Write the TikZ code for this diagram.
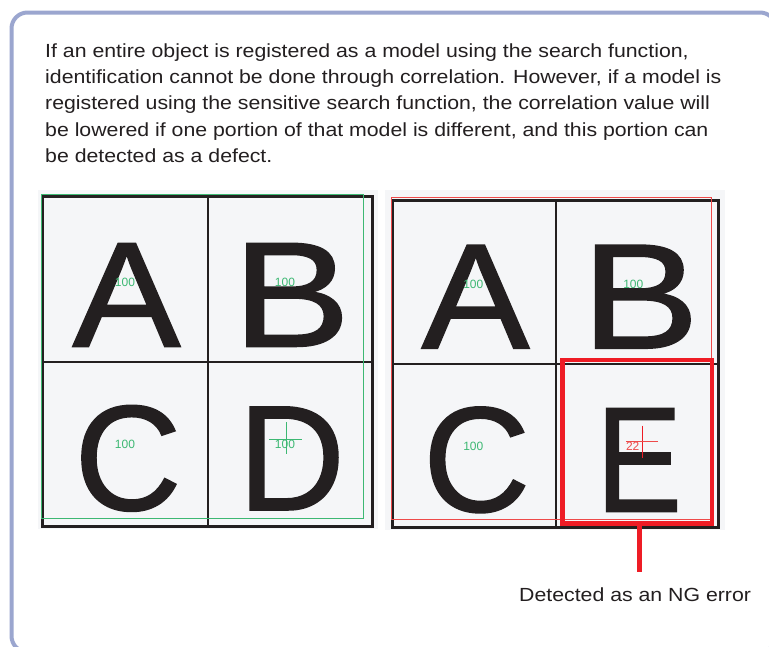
\documentclass[tikz,border=0pt]{standalone}
\usepackage{fontspec}
\usepackage{graphicx}
\setmainfont{Liberation Sans}
\newfontfamily\bodyfont[FakeStretch=1.12]{Liberation Sans}
\newfontfamily\letterfont[FakeBold=1]{Liberation Sans}
\newcommand\stretchletter[2]{\scalebox{#1}[1]{#2}}
\definecolor{framec}{HTML}{9BA6CF}
\definecolor{ink}{HTML}{231F20}
\definecolor{cellbg}{HTML}{F5F6F8}
\definecolor{okgreen}{HTML}{3DB873}
\definecolor{ngred}{HTML}{EE1C25}
\definecolor{thinred}{HTML}{EE4A4A}
\begin{document}
\begin{tikzpicture}[x=1pt,y=-1pt,
  framebox/.style={draw=framec,line width=4pt,rounded corners=16pt},
  bodytext/.style={font=\bodyfont\fontsize{19}{26.4}\selectfont,text=ink,inner sep=0pt,align=left},
  bigletter/.style={font=\letterfont\fontsize{150}{150}\selectfont,text=ink,inner sep=0pt,anchor=base},
  score/.style={font=\fontsize{12}{12}\selectfont,inner sep=0pt},
  gridouter/.style={draw=ink,line width=3pt},
  gridinner/.style={draw=ink,line width=2pt},
  okframe/.style={draw=okgreen,line width=1pt},
  ngthin/.style={draw=thinred,line width=1pt},
  ngbox/.style={draw=ngred,line width=4.7pt,inner sep=0pt},
  ngline/.style={draw=ngred,line width=5pt},
  cross/.style={line width=1pt}]
\useasboundingbox (0,0) rectangle (769,646);
\fill[white] (0,0) rectangle (769,646);
\draw[framebox] (11.5,12.5) rectangle (776,652);

\node[bodytext,anchor=north west] (intro) at (45,43.2)
 {If an entire object is registered as a model using the search function,\\
  identification cannot be done through correlation. However, if a model is\\
  registered using the sensitive search function, the correlation value will\\
  be lowered if one portion of that model is different, and this portion can\\
  be detected as a defect.};

% ---------- left image ----------
\fill[cellbg] (38,190) rectangle (378,529);
\draw[gridinner] (207.7,197) -- (207.7,527);
\draw[gridinner] (43,361.7) -- (373,361.7);
\draw[gridouter] (42.7,196.7) rectangle (372.7,526.7);
\node[bigletter] (la) at (126.5,346.5) {\stretchletter{1.08}{A}};
\node[bigletter] (lb) at (291.5,346.5) {\stretchletter{1.18}{B}};
\node[bigletter] (lc) at (128,510) {\stretchletter{0.99}{C}};
\node[bigletter] (ld) at (291.5,510) {\stretchletter{0.99}{D}};
\draw[okframe] (41.7,194.3) rectangle (363.3,518.3);
\node[score,text=okgreen] (sa) at (125,282.3) {100};
\node[score,text=okgreen] (sb) at (285,282.3) {100};
\node[score,text=okgreen] (sc) at (125,444.3) {100};
\node[score,text=okgreen] (sd) at (285,444.3) {100};
\draw[cross,okgreen] (286,422.3) -- (286,454.3) (269.3,439) -- (301.7,439);

% ---------- right image ----------
\fill[cellbg] (385,190) rectangle (725,530);
\draw[gridinner] (555.7,200) -- (555.7,527);
\draw[gridinner] (393,364) -- (718,364);
\draw[gridouter] (392.7,200) rectangle (718.3,527.3);
\node[bigletter] (ra) at (475.5,348.3) {\stretchletter{1.08}{A}};
\node[bigletter] (rb) at (640.3,348.3) {\stretchletter{1.18}{B}};
\node[bigletter] (rc) at (476.7,511.5) {\stretchletter{0.99}{C}};
\node[bigletter] (re) at (639,511.5) {\stretchletter{0.86}{E}};
\draw[ngthin] (391,197.7) rectangle (711.7,519);
\node[score,text=okgreen] (ta) at (473.3,284.3) {100};
\node[score,text=okgreen] (tb) at (633.3,284.3) {100};
\node[score,text=okgreen] (tc) at (473.3,446) {100};
\node[score,text=thinred] (te) at (632.7,446.7) {22};
\draw[cross,ngred] (642.7,425.7) -- (642.7,457.7);
\draw[cross,thinred] (626,441.7) -- (658.3,441.7);
\node[ngbox,minimum width=149.5pt,minimum height=163.5pt] (ng) at (637.25,441.75) {};

% ---------- NG label ----------
\coordinate (lineend) at (639.3,571.7);
\draw[ngline] (ng.south -| lineend) -- (lineend);
\node[bodytext,anchor=base west] (nglabel) at (519,601) {Detected as an NG error};
\end{tikzpicture}
\end{document}
